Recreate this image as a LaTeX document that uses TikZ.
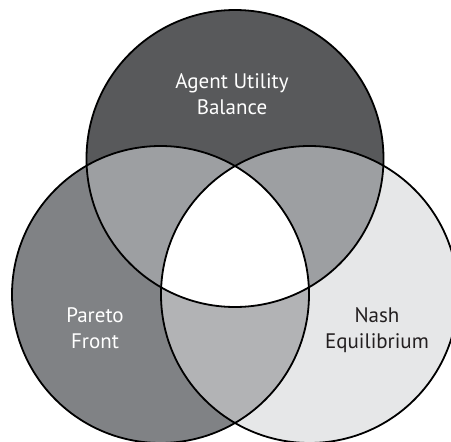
\documentclass[tikz,border=0pt]{standalone}
\usepackage{fontspec}
\setmainfont{PT Sans}
\definecolor{ctop}{HTML}{58595B}
\definecolor{cleft}{HTML}{808285}
\definecolor{cright}{HTML}{E6E7E8}
\definecolor{cpair}{HTML}{9D9FA2}
\definecolor{clr}{HTML}{B2B3B5}
\definecolor{ctext}{HTML}{231F20}
\tikzset{
  ring/.style={draw=black, line width=1.8pt},
  lbl/.style={align=center, inner sep=0pt, font=\fontsize{21}{25.5}\selectfont}
}
\begin{document}
\begin{tikzpicture}[x=1pt,y=-1pt]
\useasboundingbox (0,0) rectangle (451,442);
\clip (0,0) rectangle (451,442);
\coordinate (T) at (235,158.5);
\coordinate (L) at (160.5,294.5);
\coordinate (R) at (309.5,294.5);
\def\rad{148.5}
\fill[ctop] (T) circle (\rad);
\fill[cleft] (L) circle (\rad);
\fill[cright] (R) circle (\rad);
\begin{scope}
  \clip (T) circle (\rad);
  \fill[cpair] (L) circle (\rad);
  \fill[cpair] (R) circle (\rad);
\end{scope}
\begin{scope}
  \clip (L) circle (\rad);
  \fill[clr] (R) circle (\rad);
  \clip (R) circle (\rad);
  \fill[white] (T) circle (\rad);
\end{scope}
\draw[ring] (T) circle (\rad);
\draw[ring] (L) circle (\rad);
\draw[ring] (R) circle (\rad);
\node[lbl, text=white] (agent) at (232,94) {Agent Utility\\Balance};
\node[lbl, text=white] (pareto) at (95,328) {Pareto\\Front};
\node[lbl, text=ctext] (nash) at (377,330) {Nash\\Equilibrium};
\end{tikzpicture}
\end{document}
